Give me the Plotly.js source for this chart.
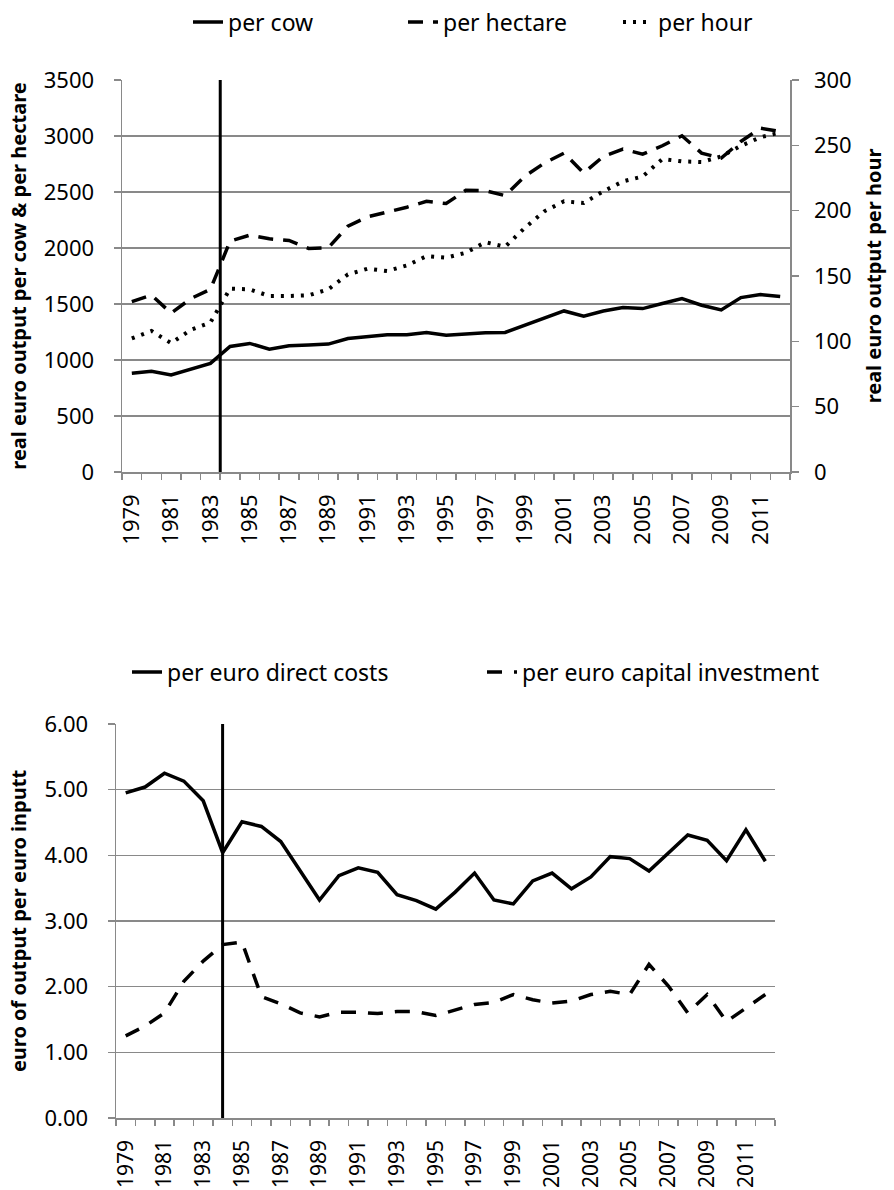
<!DOCTYPE html>
<html>
<head>
<meta charset="utf-8">
<script src="https://cdn.plot.ly/plotly-3.0.1.min.js"></script>
<style>html,body{margin:0;padding:0;background:#fff;}#chart{width:894px;height:1190px;}</style>
</head>
<body>
<div id="chart"></div>
<script>
// ---- data ----
const years = [1979,1980,1981,1982,1983,1984,1985,1986,1987,1988,1989,1990,1991,1992,1993,1994,1995,1996,1997,1998,1999,2000,2001,2002,2003,2004,2005,2006,2007,2008,2009,2010,2011,2012];
const yearLabels = ["1979","1981","1983","1985","1987","1989","1991","1993","1995","1997","1999","2001","2003","2005","2007","2009","2011"];

const perCow = [881,899,866,920,970,1121,1148,1097,1127,1133,1142,1192,1207,1225,1225,1246,1222,1234,1243,1246,1311,1379,1438,1391,1438,1468,1459,1504,1548,1489,1447,1557,1584,1566];
const perHectare = [1522,1580,1418,1548,1631,2061,2115,2082,2067,1996,2002,2195,2278,2319,2364,2417,2397,2515,2512,2468,2640,2758,2847,2669,2818,2883,2838,2913,3002,2847,2803,2951,3070,3040];
const perHour = [102.2,108,98.6,108.8,114.4,140.3,139.8,134.7,134.7,135.2,139.8,151.2,155.6,153.8,158.1,165.2,164,167.8,175.9,172.4,186.8,199.5,207.2,205.9,214.8,222.4,226.2,239.5,237.7,237.2,241.5,249.6,256.2,259.8];

const perEuroDirect = [4.95,5.04,5.25,5.13,4.83,4.04,4.51,4.44,4.21,3.77,3.32,3.69,3.81,3.74,3.40,3.31,3.18,3.44,3.73,3.32,3.26,3.61,3.73,3.49,3.67,3.98,3.95,3.76,4.04,4.31,4.23,3.92,4.39,3.91];
const perEuroCapital = [1.25,1.40,1.60,2.08,2.39,2.64,2.68,1.85,1.74,1.60,1.54,1.61,1.61,1.59,1.62,1.62,1.56,1.65,1.73,1.76,1.88,1.80,1.75,1.78,1.88,1.93,1.88,2.34,2.01,1.60,1.88,1.47,1.68,1.88];

const quotaYear = 1984; // milk quota introduction marker

// ---- styling ----
const GRAY = '#898989';
const FONT = 'Noto Sans, sans-serif';
const TICK = 22;
const labelVals = yearLabels.map(Number);
const boundaries = years.map(y => y - 0.5).concat([years[years.length-1] + 0.5]);
const xRange = [years[0] - 0.5, years[years.length-1] + 0.5];

function xAxis(domain, anchor, size) {
  return {
    domain: domain, anchor: anchor, range: xRange,
    tickmode: 'array', tickvals: labelVals, ticktext: yearLabels, tickangle: -90,
    ticks: '', ticklabelstandoff: 12,
    minor: {tickmode: 'array', tickvals: boundaries, ticks: 'outside', ticklen: 6, tickcolor: GRAY, tickwidth: 1.5, showgrid: false},
    showline: true, linecolor: GRAY, linewidth: 1.5, showgrid: false, zeroline: false,
    tickfont: {family: FONT, size: size, color: '#000'}, fixedrange: true
  };
}
function titleFont() { return {family: FONT, size: 20, color: '#000', weight: 'bold'}; }

const traces = [
  {x: years, y: perCow, name: 'per cow', type: 'scatter', mode: 'lines', xaxis: 'x', yaxis: 'y',
   line: {color: '#000', width: 3.5}, legend: 'legend'},
  {x: years, y: perHectare, name: 'per hectare', type: 'scatter', mode: 'lines', xaxis: 'x', yaxis: 'y',
   line: {color: '#000', width: 3.5, dash: '15px,10px'}, legend: 'legend'},
  {x: years, y: perHour, name: 'per hour', type: 'scatter', mode: 'lines', xaxis: 'x', yaxis: 'y2',
   line: {color: '#000', width: 4, dash: '3px,7px'}, legend: 'legend'},
  {x: years, y: perEuroDirect, name: 'per euro direct costs', type: 'scatter', mode: 'lines', xaxis: 'x2', yaxis: 'y3',
   line: {color: '#000', width: 3.5}, legend: 'legend2'},
  {x: years, y: perEuroCapital, name: 'per euro capital investment', type: 'scatter', mode: 'lines', xaxis: 'x2', yaxis: 'y3',
   line: {color: '#000', width: 3.5, dash: '15px,12px'}, legend: 'legend2'}
];

const H = 1190, W = 894;
const topDomY = [1 - 472/H, 1 - 80/H];
const botDomY = [1 - 1118/H, 1 - 724/H];

function yAxisBase() {
  return {
    showline: true, linecolor: GRAY, linewidth: 1.5,
    ticks: 'outside', ticklen: 7, tickcolor: GRAY, tickwidth: 1.5, ticklabelstandoff: 15, zeroline: false,
    tickfont: {family: FONT, size: TICK, color: '#000'}, fixedrange: true
  };
}

const layout = {
  width: W, height: H,
  margin: {l: 0, r: 0, t: 0, b: 0},
  paper_bgcolor: '#fff', plot_bgcolor: '#fff',
  font: {family: FONT, size: TICK, color: '#000'},
  showlegend: true,
  xaxis: xAxis([122/W, 790/W], 'y', TICK),
  yaxis: Object.assign(yAxisBase(), {
    domain: topDomY, anchor: 'x', range: [0, 3500], dtick: 500, tick0: 0,
    showgrid: true, gridcolor: GRAY, gridwidth: 1.5,
    title: {text: 'real euro output per cow & per hectare', font: titleFont(), standoff: 12}
  }),
  yaxis2: Object.assign(yAxisBase(), {
    overlaying: 'y', side: 'right', anchor: 'x', range: [0, 300], dtick: 50, tick0: 0, showgrid: false,
    ticklabelstandoff: 11,
    title: {text: 'real euro output per hour', font: titleFont(), standoff: 16}
  }),
  xaxis2: xAxis([116/W, 775/W], 'y3', 21),
  yaxis3: Object.assign(yAxisBase(), {
    domain: botDomY, anchor: 'x2', range: [0, 6], dtick: 1, tick0: 0, tickformat: '.2f',
    showgrid: true, gridcolor: GRAY, gridwidth: 1.5,
    title: {text: 'euro of output per euro inputt', font: titleFont(), standoff: 12}
  }),
  legend: {
    orientation: 'h', x: 188/W, y: 1 - 22/H, xanchor: 'left', yanchor: 'middle',
    entrywidth: 170, entrywidthmode: 'pixels', bgcolor: 'rgba(0,0,0,0)',
    font: {family: FONT, size: 23, color: '#000'}
  },
  legend2: {
    orientation: 'h', x: 127/W, y: 1 - 672/H, xanchor: 'left', yanchor: 'middle',
    entrywidth: 310, entrywidthmode: 'pixels', bgcolor: 'rgba(0,0,0,0)',
    font: {family: FONT, size: 23, color: '#000'}
  },
  shapes: [
    {type: 'line', xref: 'x', yref: 'y domain', x0: quotaYear - 0.5, x1: quotaYear - 0.5, y0: 0, y1: 1,
     line: {color: '#000', width: 3}},
    {type: 'line', xref: 'x2', yref: 'y3 domain', x0: quotaYear, x1: quotaYear, y0: 0, y1: 1,
     line: {color: '#000', width: 3}}
  ]
};

Plotly.newPlot('chart', traces, layout, {staticPlot: true, displayModeBar: false});
</script>
</body>
</html>
